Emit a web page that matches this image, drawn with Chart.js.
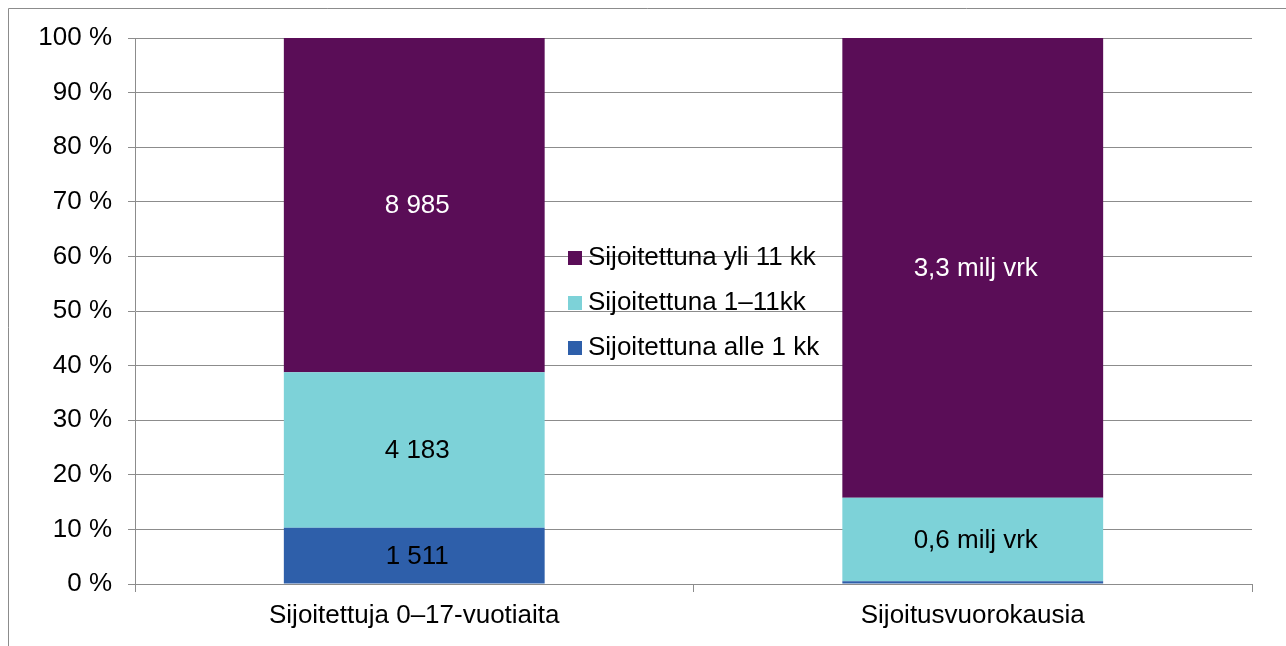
<!DOCTYPE html>
<html>
<head>
<meta charset="utf-8">
<script src="https://cdn.jsdelivr.net/npm/chart.js@4/dist/chart.umd.min.js"></script>
<style>
  html, body { margin: 0; padding: 0; background: #fff; }
  #wrap { width: 1286px; height: 646px; }
</style>
</head>
<body>
<div id="wrap"><canvas id="chart" width="1286" height="646"></canvas></div>
<script>
// Kategoriat ja sarjat
const categories = ['Sijoitettuja 0\u201317-vuotiaita', 'Sijoitusvuorokausia'];
const seriesNames = ['Sijoitettuna alle 1 kk', 'Sijoitettuna 1\u201311kk', 'Sijoitettuna yli 11 kk'];
const alle1kk = [1511, 0.02];
const kk1to11 = [4183, 0.6];
const yli11kk = [8985, 3.3];
const labelsAlle1 = ['1 511', ''];
const labels1to11 = ['4 183', '0,6 milj vrk'];
const labelsYli11 = ['8 985', '3,3 milj vrk'];
const yTicks = [0, 10, 20, 30, 40, 50, 60, 70, 80, 90, 100];

const colors = ['#2E5FAA', '#7DD2D8', '#5A0D57'];
const labelColors = ['#000', '#000', '#fff'];
const font = '"Liberation Sans", Arial, sans-serif';
const fontSize = 26;

const raw = [alle1kk, kk1to11, yli11kk];
const segLabels = [labelsAlle1, labels1to11, labelsYli11];
const totals = categories.map((c, i) => raw.reduce((s, arr) => s + arr[i], 0));
const pct = raw.map(arr => arr.map((v, i) => v / totals[i] * 100));

// Kehys kaavion ympärillä
const framePlugin = {
    id: 'frame',
    beforeDraw(chart) {
        const ctx = chart.ctx;
        ctx.save();
        ctx.strokeStyle = '#8c8c8c';
        ctx.lineWidth = 1;
        ctx.beginPath();
        ctx.moveTo(8.5, 646);
        ctx.lineTo(8.5, 8.5);
        ctx.lineTo(1286, 8.5);
        ctx.stroke();
        ctx.restore();
    }
};

// Arvotekstit palkkien sisään
const valueLabels = {
    id: 'valueLabels',
    afterDatasetsDraw(chart) {
        const ctx = chart.ctx;
        ctx.save();
        ctx.font = fontSize + 'px ' + font;
        ctx.textAlign = 'center';
        ctx.textBaseline = 'middle';
        chart.data.datasets.forEach((ds, di) => {
            const meta = chart.getDatasetMeta(di);
            meta.data.forEach((bar, i) => {
                const txt = segLabels[di][i];
                if (!txt) return;
                ctx.fillStyle = labelColors[di];
                ctx.fillText(txt, bar.x + 3, (bar.y + bar.base) / 2 + 1);
            });
        });
        ctx.restore();
    }
};

// Selite keskelle kuvaa
const legendPlugin = {
    id: 'midLegend',
    afterDraw(chart) {
        const ctx = chart.ctx;
        ctx.save();
        ctx.font = fontSize + 'px ' + font;
        ctx.textBaseline = 'middle';
        const rows = [2, 1, 0];
        rows.forEach((si, r) => {
            const y = 257 + r * 45;
            ctx.fillStyle = colors[si];
            ctx.fillRect(568, y - 6, 14, 14);
            ctx.fillStyle = '#000';
            ctx.fillText(seriesNames[si], 588, y + 1);
        });
        ctx.restore();
    }
};

new Chart(document.getElementById('chart'), {
    type: 'bar',
    data: {
        labels: categories,
        datasets: seriesNames.map((name, i) => ({
            label: name,
            data: pct[i],
            backgroundColor: colors[i],
            borderWidth: 0,
            categoryPercentage: 1,
            barPercentage: 0.467
        }))
    },
    options: {
        responsive: false,
        animation: false,
        layout: { padding: { top: 38, right: 34, left: 0, bottom: 0 } },
        plugins: {
            legend: { display: false },
            tooltip: { enabled: false }
        },
        scales: {
            x: {
                stacked: true,
                afterFit: (scale) => { scale.height = 62; },
                grid: { drawOnChartArea: false, color: '#8c8c8c', tickLength: 8 },
                border: { color: '#8c8c8c' },
                ticks: { color: '#000', font: { family: font, size: fontSize }, padding: 8 }
            },
            y: {
                stacked: true,
                min: 0,
                max: 100,
                afterFit: (scale) => { scale.width = 135; },
                afterBuildTicks: (scale) => { scale.ticks = yTicks.map(v => ({ value: v })); },
                grid: { color: '#8c8c8c', tickLength: 7 },
                border: { color: '#8c8c8c' },
                ticks: {
                    color: '#000',
                    font: { family: font, size: fontSize },
                    padding: 16,
                    callback: (v) => v + ' %'
                }
            }
        }
    },
    plugins: [framePlugin, valueLabels, legendPlugin]
});
</script>
</body>
</html>
